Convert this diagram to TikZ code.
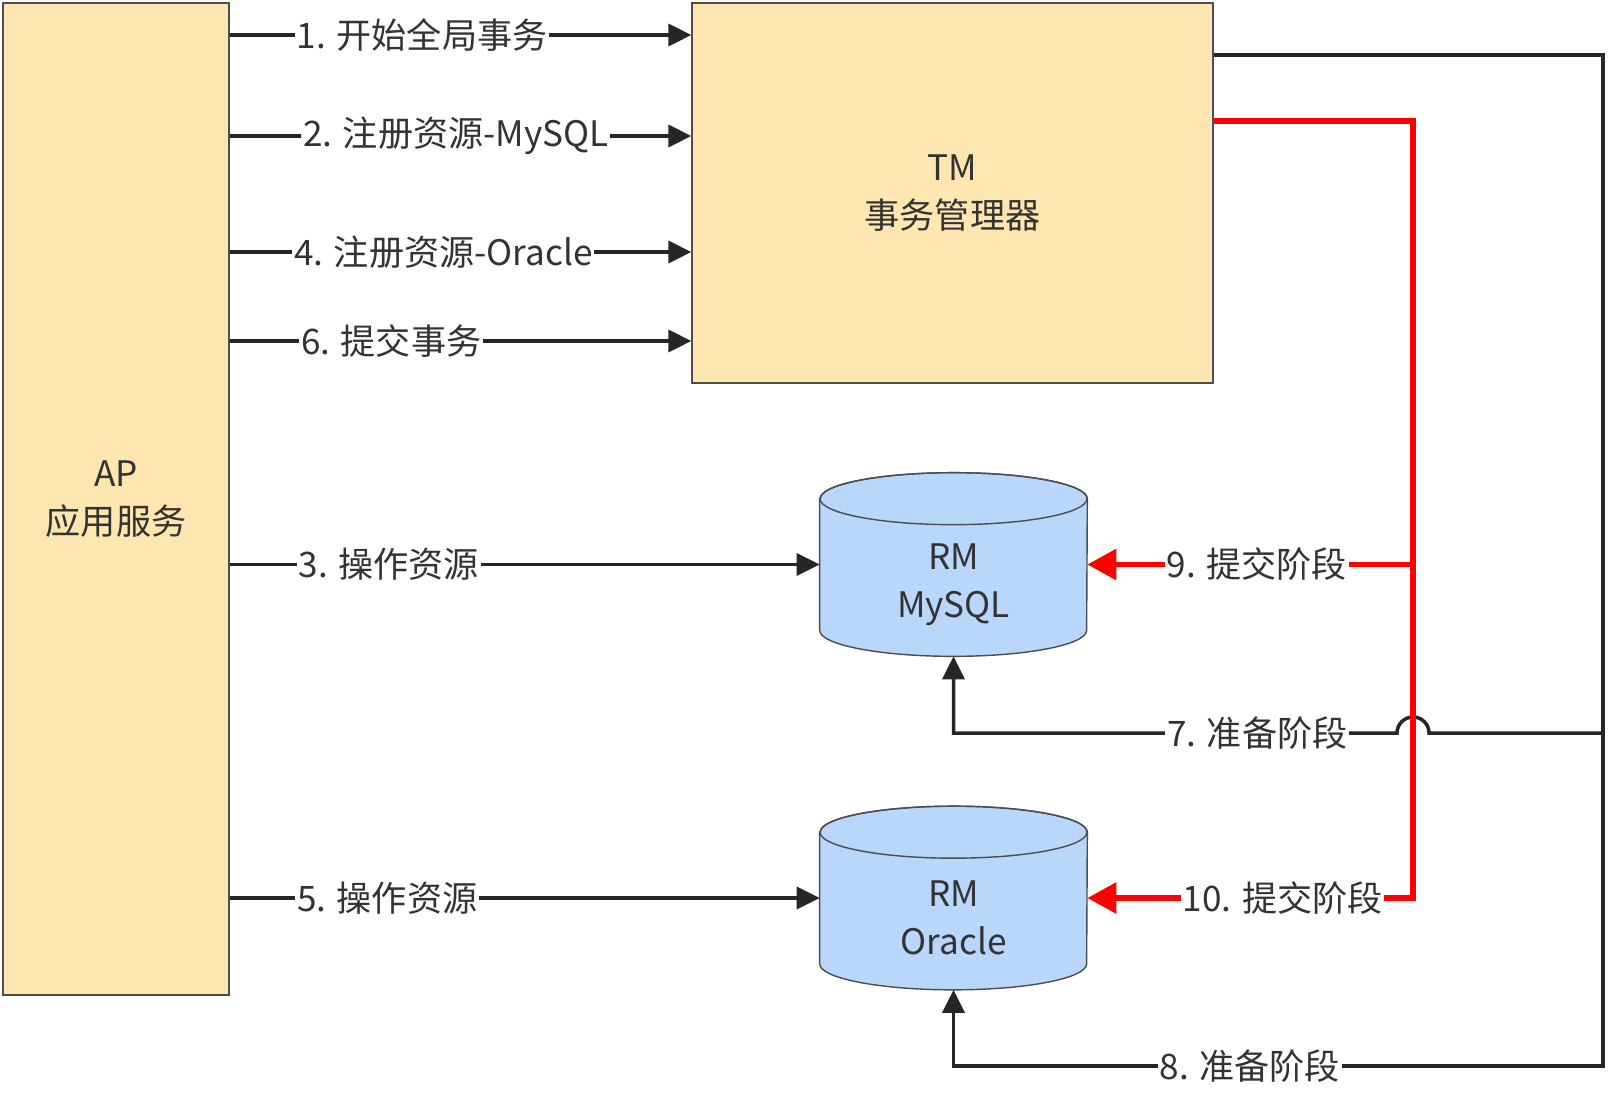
\documentclass[tikz,border=0pt]{standalone}
\usepackage{fontspec}
\setmainfont{Noto Sans CJK SC}
\usepackage{xcolor}
\usetikzlibrary{positioning, arrows.meta, backgrounds}

\definecolor{boxfill}{RGB}{255,230,176}
\definecolor{dbfill}{RGB}{185,215,251}
\definecolor{edge}{RGB}{38,38,38}
\definecolor{border}{RGB}{77,77,77}
\definecolor{txt}{RGB}{51,51,51}

\begin{document}
\begin{tikzpicture}[x=0.02cm, y=-0.02cm, >={Triangle[length=0.46cm, width=0.44cm]},
  font=\fontsize{20}{27.5}\selectfont, text=txt,
  block/.style={draw=border, line width=0.8pt, fill=boxfill, align=center},
  db/.style={minimum width=5.34cm, minimum height=3.66cm, inner sep=0pt},
  line/.style={draw=edge, line width=2pt},
  commit/.style={draw=red, line width=3.3pt},
  lbl/.style={fill=white, inner sep=1pt, text=txt}]
  \useasboundingbox (0,0) rectangle (1618,1102);

  % Define blocks
  \node [block, minimum width=4.52cm, minimum height=19.84cm] (ap) at (116,499) {AP\\应用服务};
  \node [block, minimum width=10.42cm, minimum height=7.6cm] (tm) at (952.5,193) {TM\\事务管理器};
  \node [db, label={[yshift=-0.4cm, align=center]center:RM\\MySQL}] (mysql) at (953.5,564.5) {};
  \node [db, label={[yshift=-0.4cm, align=center]center:RM\\Oracle}] (oracle) at (953.5,898) {};
  \coordinate (bus) at (1413,121);
  \coordinate (rail) at (1603,55);

  % Cylinders behind the text
  \begin{scope}[on background layer]
    \foreach \db in {mysql,oracle} {
      \path [fill=dbfill, draw=border, line width=0.8pt]
        ([yshift=-0.52cm]\db.north west) -- ([yshift=0.52cm]\db.south west)
        arc[start angle=180, end angle=360, x radius=2.67cm, y radius=0.52cm]
        -- ([yshift=-0.52cm]\db.north east)
        arc[start angle=0, end angle=180, x radius=2.67cm, y radius=0.52cm] -- cycle;
      \draw [border, line width=0.8pt] ([yshift=-0.52cm]\db.north) ellipse[x radius=2.67cm, y radius=0.52cm];
    }
  \end{scope}

  % AP to TM
  \foreach \y/\p/\t in {35/0.417/{1. 开始全局事务}, 136/0.49/{2. 注册资源-MySQL},
      252/0.463/{4. 注册资源-Oracle}, 341/0.35/{6. 提交事务}}
    \draw [line, ->] (ap.east |- 0,\y) -- node[lbl, pos=\p] {\t} (tm.west |- 0,\y);

  % AP to RM
  \draw [line, ->] (ap.east |- mysql.west) -- node[lbl, pos=0.27] {3. 操作资源} (mysql.west);
  \draw [line, ->] (ap.east |- oracle.west) -- node[lbl, pos=0.267] {5. 操作资源} (oracle.west);

  % prepare phase
  \draw [line, ->] (tm.east |- rail) -- (rail) -- (rail |- 0,1066)
    -- node[lbl, pos=0.544] {8. 准备阶段} (oracle.south |- 0,1066) -- (oracle.south);
  \draw [line, ->] (rail |- 0,733) -- ([xshift=0.32cm]bus |- 0,733)
    arc[start angle=0, end angle=180, radius=0.32cm]
    -- node[lbl, pos=0.315] {7. 准备阶段} (mysql.south |- 0,733) -- (mysql.south);

  % commit phase
  \draw [commit, -{Triangle[length=0.58cm, width=0.6cm]}] (tm.east |- bus) -- (bus) -- (bus |- oracle.east)
    -- node[lbl, pos=0.40] {10. 提交阶段} (oracle.east);
  \draw [commit, -{Triangle[length=0.58cm, width=0.6cm]}] (bus |- mysql.east)
    -- node[lbl, pos=0.48] {9. 提交阶段} (mysql.east);
\end{tikzpicture}
\end{document}
